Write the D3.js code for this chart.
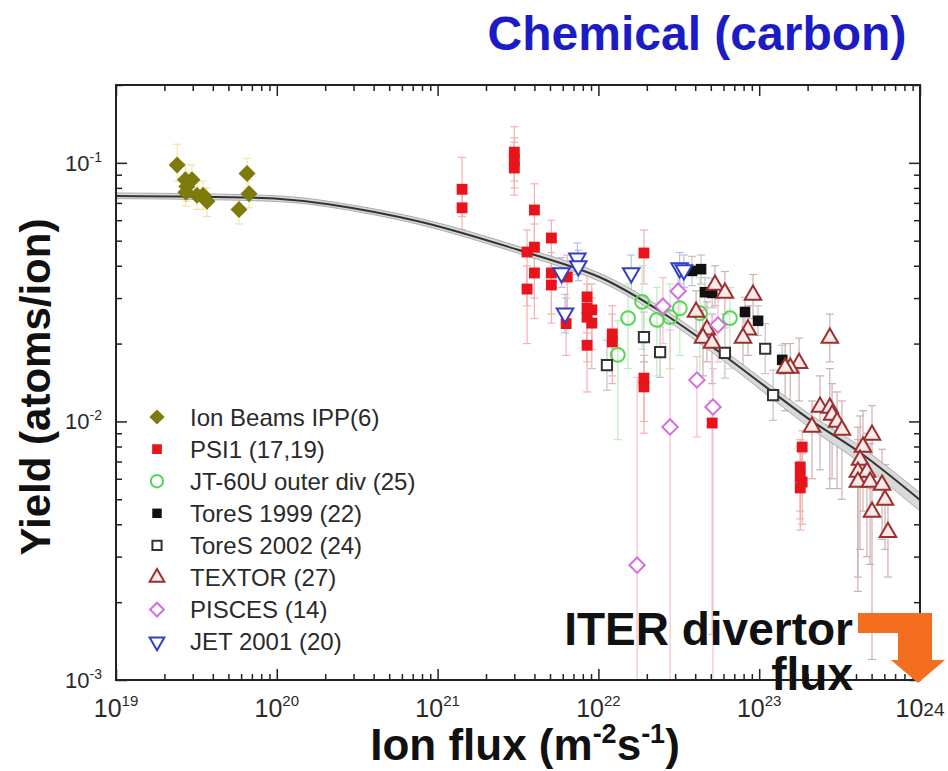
<!DOCTYPE html>
<html>
<head>
<meta charset="utf-8">
<script src="https://cdn.jsdelivr.net/npm/d3@7"></script>
<style>
  body { margin: 0; background: #fff; }
  svg { display: block; font-family: Arial, "Liberation Sans", Helvetica, sans-serif; }
</style>
</head>
<body>
<div id="chart"></div>
<script>
// each point: [ion flux (m^-2 s^-1), yield, error low, error high]
const ionBeams = [
  [2.4e19, 0.098, 0.085, 0.118], [2.7e19, 0.086, 0.075, 0.099], [2.97e19, 0.086, 0.076, 0.098],
  [2.76e19, 0.081, 0.071, 0.092], [2.72e19, 0.077, 0.068, 0.088], [3.19e19, 0.075, 0.066, 0.085],
  [3.48e19, 0.075, 0.066, 0.085], [3.68e19, 0.071, 0.062, 0.080], [5.82e19, 0.066, 0.058, 0.075],
  [6.53e19, 0.091, 0.080, 0.104], [6.72e19, 0.076, 0.067, 0.086]
];
const psi1 = [
  [1.42e21, 0.079, 0.062, 0.105], [1.42e21, 0.067, 0.055, 0.080], [3.0e21, 0.110, 0.085, 0.138],
  [3.0e21, 0.1025, 0.080, 0.125], [3.0e21, 0.0955, 0.075, 0.120], [4.0e21, 0.0657, 0.045, 0.083],
  [5.1e21, 0.0512, 0.038, 0.060], [4.0e21, 0.0472, 0.030, 0.058], [3.6e21, 0.0452, 0.028, 0.055],
  [4.0e21, 0.0375, 0.025, 0.047], [3.6e21, 0.0325, 0.020, 0.040], [5.1e21, 0.0375, 0.026, 0.045],
  [5.1e21, 0.0337, 0.024, 0.042], [6.4e21, 0.0362, 0.026, 0.044], [1.92e22, 0.0448, 0.034, 0.055],
  [6.3e21, 0.0239, 0.018, 0.030], [8.5e21, 0.0303, 0.022, 0.037], [9.1e21, 0.0270, 0.019, 0.034],
  [8.5e21, 0.0253, 0.017, 0.031], [8.5e21, 0.0274, 0.020, 0.034], [9.1e21, 0.0240, 0.016, 0.030],
  [8.5e21, 0.0197, 0.013, 0.025], [1.22e22, 0.0203, 0.014, 0.026], [1.22e22, 0.0218, 0.015, 0.028],
  [1.92e22, 0.0147, 0.010, 0.018], [1.92e22, 0.0136, 0.009, 0.017], [5.1e22, 0.00986, 0.0015, 0.012],
  [1.85e23, 0.00796, 0.0065, 0.0092], [1.8e23, 0.00666, 0.0045, 0.0085], [1.8e23, 0.0061, 0.0042, 0.008],
  [1.85e23, 0.00583, 0.0040, 0.0075], [1.8e23, 0.00553, 0.0038, 0.007]
];
const jt60u = [
  [1.32e22, 0.0181, 0.0085, 0.0245], [1.53e22, 0.0251, 0.016, 0.034], [1.87e22, 0.0290, 0.019, 0.040],
  [2.31e22, 0.0247, 0.015, 0.033], [2.79e22, 0.0253, 0.016, 0.034], [3.21e22, 0.0274, 0.018, 0.037],
  [4.28e22, 0.0262, 0.015, 0.036], [6.58e22, 0.0251, 0.016, 0.033]
];
const tores1999 = [
  [3.82e22, 0.0382, 0.0335, 0.0435], [4.35e22, 0.0388, 0.034, 0.044], [4.6e22, 0.0316, 0.0277, 0.036],
  [5.1e22, 0.0314, 0.0275, 0.0358], [8.16e22, 0.0265, 0.0232, 0.0302], [9.84e22, 0.0245, 0.0215, 0.028],
  [1.39e23, 0.0173, 0.0152, 0.0197]
];
const tores2002 = [
  [1.13e22, 0.0165, 0.0132, 0.0206], [1.92e22, 0.0212, 0.017, 0.0265], [2.42e22, 0.01855, 0.0148, 0.0232],
  [6.12e22, 0.0184, 0.0147, 0.023], [1.09e23, 0.0191, 0.0153, 0.0239], [1.22e23, 0.01265, 0.0101, 0.0158]
];
const textor = [
  [5.31e22, 0.0337, 0.028, 0.040], [6.12e22, 0.0314, 0.026, 0.038], [9.15e22, 0.0308, 0.025, 0.037],
  [4.05e22, 0.0265, 0.021, 0.032], [4.73e22, 0.0226, 0.017, 0.029], [4.47e22, 0.0210, 0.015, 0.027],
  [5.09e22, 0.0201, 0.014, 0.026], [8.51e22, 0.0226, 0.018, 0.028], [7.93e22, 0.0210, 0.016, 0.026],
  [2.75e23, 0.0210, 0.017, 0.026], [1.77e23, 0.0168, 0.012, 0.021], [1.56e23, 0.0161, 0.011, 0.020],
  [1.45e23, 0.0161, 0.011, 0.020], [2.39e23, 0.01137, 0.0065, 0.015], [2.75e23, 0.01127, 0.0055, 0.016],
  [2.13e23, 0.00952, 0.006, 0.012], [2.84e23, 0.01058, 0.006, 0.014], [3.05e23, 0.00995, 0.0055, 0.013],
  [3.27e23, 0.00926, 0.005, 0.012], [5.03e23, 0.00886, 0.0055, 0.0115], [4.42e23, 0.00796, 0.0045, 0.011],
  [4.24e23, 0.00709, 0.0032, 0.0105], [4.11e23, 0.00637, 0.0025, 0.0095], [4.68e23, 0.00637, 0.003, 0.009],
  [4.11e23, 0.00583, 0.0022, 0.0085], [4.89e23, 0.00583, 0.0028, 0.0082], [5.81e23, 0.00568, 0.0035, 0.0078],
  [6.06e23, 0.00497, 0.0032, 0.0068], [5.03e23, 0.00446, 0.0012, 0.0062], [6.32e23, 0.00373, 0.0025, 0.0050]
];
const pisces = [
  [2.52e22, 0.0279, 0.020, 0.036], [3.13e22, 0.0319, 0.024, 0.040], [5.54e22, 0.0236, 0.017, 0.030],
  [4.1e22, 0.01446, 0.0087, 0.0178], [5.16e22, 0.01137, 0.001, 0.016], [2.79e22, 0.00952, 0.001, 0.0226],
  [1.74e22, 0.00278, 0.001, 0.0148]
];
const jet2001 = [
  [5.9e21, 0.0375, 0.033, 0.043], [7.4e21, 0.0428, 0.037, 0.049], [7.5e21, 0.0399, 0.035, 0.046],
  [6.2e21, 0.0262, 0.022, 0.031], [1.6e22, 0.0375, 0.032, 0.044], [3.2e22, 0.0392, 0.034, 0.045],
  [3.4e22, 0.0385, 0.033, 0.044]
];

// fitted curve and its uncertainty band
const fitFlux  = [1e19, 1.05e20, 2.1e20, 7.8e20, 3.2e21, 1.02e22, 2.2e22, 5.75e22, 1.23e23, 2.14e23, 4.27e23, 1e24];
const fitYield = [0.0745, 0.0725, 0.0692, 0.0592, 0.0460, 0.0361, 0.0277, 0.0184, 0.0129, 0.0100, 0.00755, 0.00497];
const fitUpper = [0.0765, 0.0744, 0.0710, 0.0609, 0.0475, 0.0374, 0.0288, 0.0192, 0.0135, 0.0105, 0.0080, 0.0053];
const fitLower = [0.0727, 0.0707, 0.0675, 0.0576, 0.0446, 0.0348, 0.0266, 0.0175, 0.0121, 0.0093, 0.0069, 0.0045];

const xMajor = [1e19, 1e20, 1e21, 1e22, 1e23, 1e24];
const xExp = ["19", "20", "21", "22", "23", "24"];
const yMajor = [1e-3, 1e-2, 1e-1];
const yExp = ["-3", "-2", "-1"];

const legendNames = ["Ion Beams IPP(6)", "PSI1 (17,19)", "JT-60U outer div (25)", "ToreS 1999 (22)",
  "ToreS 2002 (24)", "TEXTOR (27)", "PISCES (14)", "JET 2001 (20)"];

const width = 948, height = 771;
const plot = { left: 116, right: 920, top: 85, bottom: 680 };

const series = [
  { data: ionBeams, shape: "diamond", size: 145, fill: "#7d7b0c", stroke: "none", err: "#efe7a6" },
  { data: psi1, shape: "square", size: 118, fill: "#e8131b", stroke: "none", err: "#f5b0b0" },
  { data: jt60u, shape: "circle", size: 150, fill: "none", stroke: "#55d655", err: "#bdeebd" },
  { data: tores1999, shape: "square", size: 112, fill: "#111", stroke: "none", err: "#c4c4c4" },
  { data: tores2002, shape: "square", size: 105, fill: "#fff", stroke: "#333", err: "#c4c4c4" },
  { data: textor, shape: "triangle", size: 118, fill: "#fbeaea", stroke: "#9c2f2f", err: "#cdb0b0" },
  { data: pisces, shape: "diamond", size: 118, fill: "#fff", stroke: "#d56fe0", err: "#f4bfd0" },
  { data: jet2001, shape: "triangleDown", size: 118, fill: "#fff", stroke: "#3140c4", err: "#b4c0f2" }
];
series.forEach((s, i) => s.name = legendNames[i]);

const svg = d3.select("#chart")
  .append("svg")
  .attr("width", width)
  .attr("height", height)
  .style("background-color", "#fff");

const x = d3.scaleLog().domain([1e19, 1e24]).range([plot.left, plot.right]);
const y = d3.scaleLog().domain([1e-3, 0.2]).range([plot.bottom, plot.top]);

const xMinor = [];
xMajor.slice(0, -1).forEach(m => { for (let k = 2; k <= 9; k++) xMinor.push(m * k); });
const yMinor = [];
[1e-3, 1e-2, 1e-1].forEach(m => { for (let k = 2; k <= 9; k++) if (m * k <= 0.2) yMinor.push(m * k); });

function tickAxis(axis, values, size, transform) {
  const g = svg.append("g")
    .attr("transform", transform)
    .call(axis.tickValues(values).tickSize(-size).tickSizeOuter(0).tickFormat(""));
  g.select(".domain").remove();
  g.selectAll("line").attr("stroke", "#222").attr("stroke-width", 1.5);
}
tickAxis(d3.axisBottom(x), xMajor, 11, `translate(0,${plot.bottom})`);
tickAxis(d3.axisBottom(x), xMinor, 6, `translate(0,${plot.bottom})`);
tickAxis(d3.axisTop(x), xMajor, 11, `translate(0,${plot.top})`);
tickAxis(d3.axisTop(x), xMinor, 6, `translate(0,${plot.top})`);
tickAxis(d3.axisLeft(y), yMajor, 11, `translate(${plot.left},0)`);
tickAxis(d3.axisLeft(y), yMinor, 6, `translate(${plot.left},0)`);
tickAxis(d3.axisRight(y), yMajor, 11, `translate(${plot.right},0)`);
tickAxis(d3.axisRight(y), yMinor, 6, `translate(${plot.right},0)`);

// clip for marks
svg.append("defs").append("clipPath").attr("id", "clip")
  .append("rect")
  .attr("x", plot.left).attr("y", plot.top)
  .attr("width", plot.right - plot.left).attr("height", plot.bottom - plot.top);

const marks = svg.append("g").attr("clip-path", "url(#clip)");

// error bars
series.forEach(s => {
  const g = marks.append("g").attr("stroke", s.err).attr("stroke-width", 1.2);
  s.data.forEach(d => {
    const cx = x(d[0]);
    g.append("line").attr("x1", cx).attr("x2", cx).attr("y1", y(d[2])).attr("y2", y(d[3]));
    [d[2], d[3]].forEach(v => {
      g.append("line").attr("x1", cx - 4).attr("x2", cx + 4).attr("y1", y(v)).attr("y2", y(v));
    });
  });
});

// fit band + curve
const fitIdx = d3.range(fitFlux.length);
marks.append("path")
  .datum(fitIdx)
  .attr("d", d3.area().curve(d3.curveCatmullRom.alpha(0.5))
    .x(i => x(fitFlux[i])).y0(i => y(fitLower[i])).y1(i => y(fitUpper[i])))
  .attr("fill", "#d9d9d9")
  .attr("stroke", "#9a9a9a")
  .attr("stroke-width", 0.8);
marks.append("path")
  .datum(fitIdx)
  .attr("d", d3.line().curve(d3.curveCatmullRom.alpha(0.5)).x(i => x(fitFlux[i])).y(i => y(fitYield[i])))
  .attr("fill", "none")
  .attr("stroke", "#333")
  .attr("stroke-width", 2);

function symbolPath(shape, size) {
  if (shape === "diamond" || shape === "square") return d3.symbol(d3.symbolSquare, size)();
  if (shape === "circle") return d3.symbol(d3.symbolCircle, size)();
  return d3.symbol(d3.symbolTriangle, size)();
}
function symbolRotate(shape) {
  if (shape === "diamond") return " rotate(45)";
  if (shape === "triangleDown") return " rotate(180)";
  return "";
}
function drawMarker(g, s, cx, cy, scale) {
  g.append("path")
    .attr("d", symbolPath(s.shape, s.size * scale))
    .attr("transform", `translate(${cx},${cy})` + symbolRotate(s.shape))
    .attr("fill", s.fill)
    .attr("stroke", s.stroke)
    .attr("stroke-width", s.stroke === "none" ? 0 : 2);
}

series.forEach(s => {
  const g = marks.append("g");
  s.data.forEach(d => drawMarker(g, s, x(d[0]), y(d[1]), 1));
});

// frame
svg.append("rect")
  .attr("x", plot.left).attr("y", plot.top)
  .attr("width", plot.right - plot.left).attr("height", plot.bottom - plot.top)
  .attr("fill", "none").attr("stroke", "#222").attr("stroke-width", 2);

// legend
const legend = svg.append("g");
series.forEach((s, i) => {
  const ly = 417 + i * 32.1;
  drawMarker(legend, s, 157, ly, 0.8);
  legend.append("text")
    .attr("x", 190).attr("y", ly + 8.5)
    .attr("font-size", 24).attr("fill", "#2a2a2a")
    .text(s.name);
});

// x tick labels
xMajor.forEach((v, i) => {
  const t = svg.append("text")
    .attr("x", x(v)).attr("y", 717)
    .attr("text-anchor", "middle")
    .attr("font-size", 25).attr("fill", "#2a2a2a");
  t.append("tspan").text("10");
  if (i === xMajor.length - 1) {
    t.append("tspan").attr("font-size", 19).attr("dy", -1).text(xExp[i]);
  } else {
    t.append("tspan").attr("font-size", 15).attr("dy", -11).text(xExp[i]);
  }
});

// y tick labels
yMajor.forEach((v, i) => {
  const t = svg.append("text")
    .attr("x", 102).attr("y", y(v) + 8)
    .attr("text-anchor", "end")
    .attr("font-size", 22).attr("fill", "#2a2a2a");
  t.append("tspan").text("10");
  t.append("tspan").attr("font-size", 14).attr("dy", -9).text(yExp[i]);
});

// axis titles
const xTitle = svg.append("text")
  .attr("x", 525).attr("y", 760)
  .attr("text-anchor", "middle")
  .attr("font-size", 44).attr("font-weight", "bold").attr("fill", "#111");
xTitle.append("tspan").text("Ion flux (m");
xTitle.append("tspan").attr("font-size", 27).attr("dy", -17).text("-2");
xTitle.append("tspan").attr("dy", 17).text("s");
xTitle.append("tspan").attr("font-size", 27).attr("dy", -17).text("-1");
xTitle.append("tspan").attr("dy", 17).text(")");

svg.append("text")
  .attr("transform", "translate(50,387) rotate(-90)")
  .attr("text-anchor", "middle")
  .attr("font-size", 42).attr("font-weight", "bold").attr("fill", "#111")
  .text("Yield (atoms/ion)");

// title
svg.append("text")
  .attr("x", 697).attr("y", 50)
  .attr("text-anchor", "middle")
  .attr("font-size", 48).attr("font-weight", "bold").attr("fill", "#1c1cc6")
  .text("Chemical (carbon)");

// ITER annotation
svg.append("text")
  .attr("x", 853).attr("y", 645)
  .attr("text-anchor", "end")
  .attr("font-size", 46).attr("font-weight", "bold").attr("fill", "#111")
  .text("ITER divertor");
svg.append("text")
  .attr("x", 853).attr("y", 690)
  .attr("text-anchor", "end")
  .attr("font-size", 46).attr("font-weight", "bold").attr("fill", "#111")
  .text("flux");

svg.append("path")
  .attr("d", "M858,613 H932 V660 H945 L918,683 L891,660 H898 V633 H858 Z")
  .attr("fill", "#f36f1f");
</script>
</body>
</html>
